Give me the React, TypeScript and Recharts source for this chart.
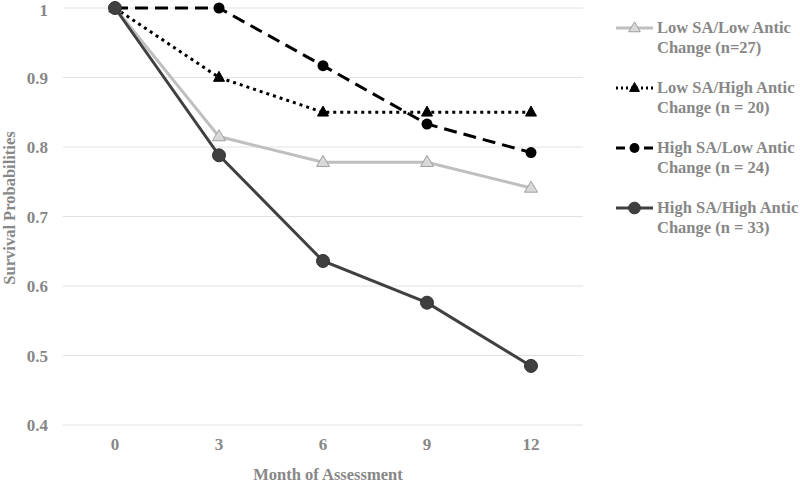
import React from 'react';
import { LineChart, Line, XAxis, YAxis, CartesianGrid, Legend } from 'recharts';

const months = ['0', '3', '6', '9', '12'];
const lowSaLowAntic = [1, 0.815, 0.778, 0.778, 0.741];
const lowSaHighAntic = [1, 0.9, 0.85, 0.85, 0.85];
const highSaLowAntic = [1, 1, 0.917, 0.833, 0.792];
const highSaHighAntic = [1, 0.788, 0.636, 0.576, 0.485];
const yTicks = [0.4, 0.5, 0.6, 0.7, 0.8, 0.9, 1];

const FONT = '"Liberation Serif", "Times New Roman", serif';
const TEXT = '#878787';

const data = months.map((m, i) => ({
  month: m,
  lowLow: lowSaLowAntic[i],
  lowHigh: lowSaHighAntic[i],
  highLow: highSaLowAntic[i],
  highHigh: highSaHighAntic[i],
}));

// marker shapes, shared by the series and the legend icons
function Triangle({ cx, cy, w, h, fill, stroke }: any) {
  const pts = `${cx},${cy - h * 0.62} ${cx - w / 2},${cy + h * 0.38} ${cx + w / 2},${cy + h * 0.38}`;
  return <polygon points={pts} fill={fill} stroke={stroke} strokeWidth={1} />;
}

const series = [
  {
    key: 'lowLow',
    name: ['Low SA/Low Antic', 'Change (n=27)'],
    stroke: '#bfbfbf',
    dash: undefined as string | undefined,
    iconDash: undefined as string | undefined,
    marker: (cx: number, cy: number, s = 1) => (
      <Triangle cx={cx} cy={cy} w={13 * s} h={11 * s} fill="#d9d9d9" stroke="#a0a0a0" />
    ),
  },
  {
    key: 'lowHigh',
    name: ['Low SA/High Antic', 'Change (n = 20)'],
    stroke: '#000',
    dash: '3 4',
    iconDash: '2 3',
    marker: (cx: number, cy: number, s = 1) => (
      <Triangle cx={cx} cy={cy} w={11 * s} h={10 * s} fill="#000" stroke="#000" />
    ),
  },
  {
    key: 'highLow',
    name: ['High SA/Low Antic', 'Change (n = 24)'],
    stroke: '#000',
    dash: '13 7',
    iconDash: '9 5',
    marker: (cx: number, cy: number, s = 1) => <circle cx={cx} cy={cy} r={5.5 * s} fill="#000" />,
  },
  {
    key: 'highHigh',
    name: ['High SA/High Antic', 'Change (n = 33)'],
    stroke: '#404040',
    dash: undefined,
    iconDash: undefined,
    marker: (cx: number, cy: number, s = 1) => (
      <circle cx={cx} cy={cy} r={6.5 * s} fill="#404040" stroke="#333" strokeWidth={1} />
    ),
  },
];

function renderLegend() {
  return (
    <div style={{ fontFamily: FONT, fontWeight: 'bold', fontSize: 16.5, color: TEXT, lineHeight: '20px' }}>
      {series.map((s) => (
        <div key={s.key} style={{ display: 'flex', height: 60, whiteSpace: 'nowrap' }}>
          <svg width={41} height={20} style={{ marginRight: 2 }}>
            <line x1={2} x2={39} y1={10} y2={10} stroke={s.stroke} strokeWidth={3} strokeDasharray={s.iconDash} />
            {s.marker(20.5, 10, 0.9)}
          </svg>
          <div>
            {s.name[0]}
            <br />
            {s.name[1]}
          </div>
        </div>
      ))}
    </div>
  );
}

export default function App() {
  return (
    <div style={{ position: 'absolute', left: 0, top: 0, width: 800, height: 484, background: '#fff' }}>
      <LineChart width={800} height={484} data={data} margin={{ top: 8, right: 217, bottom: 0, left: 0 }}>
        <CartesianGrid vertical={false} stroke="#e2e2e2" strokeWidth={1} />
        <XAxis
          dataKey="month"
          axisLine={false}
          tickLine={false}
          tickSize={0}
          tickMargin={13}
          height={59}
          padding={{ left: 52, right: 52 }}
          tick={{ fontFamily: FONT, fontWeight: 'bold', fontSize: 17, fill: TEXT }}
          label={() => (
            <text x={328} y={480} textAnchor="middle" fontFamily={FONT} fontWeight="bold" fontSize={16.5} fill={TEXT}>
              Month of Assessment
            </text>
          )}
        />
        <YAxis
          width={63}
          domain={[0.4, 1]}
          ticks={yTicks}
          axisLine={false}
          tickLine={false}
          tickSize={0}
          tickMargin={15}
          tick={{ fontFamily: FONT, fontWeight: 'bold', fontSize: 17, fill: TEXT }}
          label={() => (
            <text
              x={15}
              y={208}
              transform="rotate(-90, 15, 208)"
              textAnchor="middle"
              fontFamily={FONT}
              fontWeight="bold"
              fontSize={16.5}
              fill={TEXT}
            >
              Survival Probabilities
            </text>
          )}
        />
        <Legend
          layout="vertical"
          align="center"
          verticalAlign="middle"
          content={renderLegend}
          wrapperStyle={{ left: 614, top: 18, width: 186 }}
        />
        {series.map((s) => (
          <Line
            key={s.key}
            dataKey={s.key}
            type="linear"
            stroke={s.stroke}
            strokeWidth={3}
            strokeDasharray={s.dash}
            isAnimationActive={false}
            activeDot={false}
            dot={(p: any) => <g key={`${s.key}-${p.index}`}>{s.marker(p.cx, p.cy)}</g>}
          />
        ))}
      </LineChart>
    </div>
  );
}
